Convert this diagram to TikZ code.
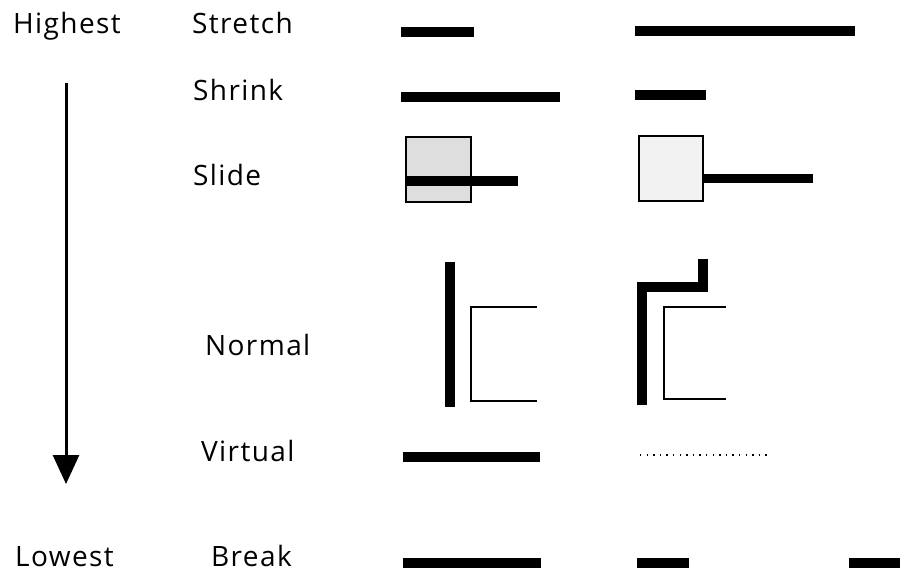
\documentclass[tikz,border=0pt]{standalone}
\usepackage{fontspec}
\setmainfont[LetterSpace=5]{Open Sans}
\usetikzlibrary{arrows.meta}
\begin{document}
\begin{tikzpicture}[x=1pt,y=-1pt,
  lbl/.style={anchor=base west,inner sep=0pt,font=\fontsize{28}{32}\selectfont},
  thickln/.style={line width=9.5pt},
  thinln/.style={line width=2.6pt,line join=miter},
  slidebox/.style={draw,line width=1.6pt}]
\useasboundingbox (0,0) rectangle (914,574);
% labels
\node[lbl] (hi) at (13,33) {Highest};
\node[lbl] (lo) at (15,566) {Lowest};
\node[lbl] (st) at (192,33) {Stretch};
\node[lbl] (sh) at (193,100) {Shrink};
\node[lbl] (sl) at (193,185) {Slide};
\node[lbl] (no) at (205,355) {Normal};
\node[lbl] (vi) at (201,461) {Virtual};
\node[lbl] (br) at (211,566) {Break};
% priority arrow
\coordinate (a1) at (66,83);
\coordinate (a2) at (66,484);
\draw[line width=3pt,-{Triangle[length=29pt,width=26pt]}] (a1) -- (a2);
% stretch
\draw[thickln] (401,32) -- (474,32);
\draw[thickln] (635,31) -- (855,31);
% shrink
\draw[thickln] (401,97) -- (560,97);
\draw[thickln] (635,95) -- (706,95);
% slide
\draw[slidebox,fill=black!13] (406,137) rectangle (471,202);
\draw[line width=9.5pt] (406,181) -- (518,181);
\draw[slidebox,fill=black!5] (639,136) rectangle (703,201);
\draw[line width=9pt] (703,178) -- (813,178);
% normal
\draw[line width=10pt] (450,262) -- (450,407);
\draw[thinln] (537,307) -- (471,307) -- (471,401) -- (537,401);
\draw[line width=10pt,line join=miter] (642,405) -- (642,287) -- (703,287) -- (703,259);
\draw[thinln] (726,307) -- (664,307) -- (664,399) -- (726,399);
% virtual
\draw[thickln] (403,457) -- (540,457);
\draw[line width=1.4pt,dash pattern=on 1.4pt off 5.2pt] (640,455) -- (768,455);
% break
\draw[thickln] (403,563) -- (541,563);
\draw[thickln] (637,563) -- (689,563);
\draw[thickln] (849,563) -- (900,563);
\end{tikzpicture}
\end{document}
